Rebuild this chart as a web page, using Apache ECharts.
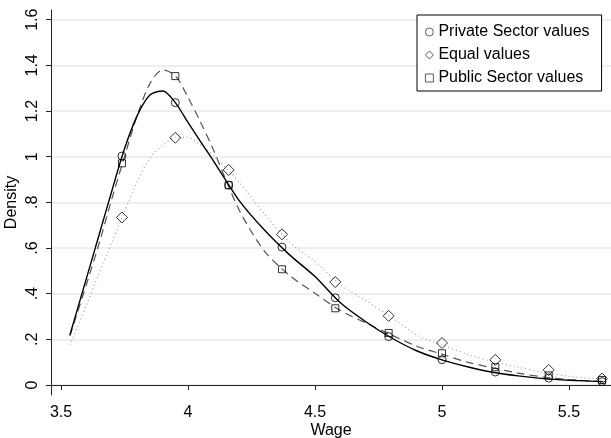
<!DOCTYPE html>
<html>
<head>
<meta charset="utf-8">
<script src="https://cdn.jsdelivr.net/npm/echarts/dist/echarts.min.js"></script>
<style>
  html, body { margin: 0; padding: 0; background: #fff; }
  #chart { width: 611px; height: 438px; }
</style>
</head>
<body>
<div id="chart"></div>
<script>
// wage points where the markers sit
var markerWage = [3.74, 3.95, 4.16, 4.37, 4.58, 4.79, 5.00, 5.21, 5.42, 5.63]
var privateValues = [1.003, 1.237, 0.876, 0.604, 0.382, 0.212, 0.111, 0.057, 0.030, 0.015]
var equalValues = [0.734, 1.083, 0.942, 0.660, 0.451, 0.303, 0.184, 0.110, 0.066, 0.028]
var publicValues = [0.971, 1.353, 0.875, 0.507, 0.336, 0.228, 0.139, 0.078, 0.042, 0.022]

// density curves
var curveWage = [3.535, 3.6, 3.65, 3.7, 3.75, 3.8, 3.85, 3.9, 3.95, 4.0, 4.05, 4.1, 4.2, 4.3, 4.4, 4.5, 4.6, 4.7, 4.8, 4.9, 5.0, 5.1, 5.2, 5.3, 5.4, 5.5, 5.635]
var privateCurve = [0.219, 0.467, 0.658, 0.85, 1.035, 1.18, 1.27, 1.288, 1.237, 1.15, 1.065, 0.982, 0.81, 0.68, 0.57, 0.475, 0.36, 0.277, 0.207, 0.15, 0.11, 0.08, 0.056, 0.04, 0.028, 0.021, 0.015]
var publicCurve = [0.215, 0.44, 0.62, 0.815, 1.0, 1.18, 1.32, 1.38, 1.355, 1.26, 1.15, 1.03, 0.77, 0.588, 0.48, 0.402, 0.326, 0.272, 0.22, 0.17, 0.135, 0.1, 0.075, 0.052, 0.035, 0.024, 0.015]
var equalCurve = [0.175, 0.35, 0.49, 0.625, 0.76, 0.89, 0.995, 1.05, 1.083, 1.085, 1.05, 1.005, 0.89, 0.75, 0.625, 0.54, 0.44, 0.37, 0.297, 0.22, 0.175, 0.135, 0.102, 0.078, 0.055, 0.038, 0.025]

var xTicks = [3.5, 4, 4.5, 5, 5.5]
var yTicks = [0, 0.2, 0.4, 0.6, 0.8, 1, 1.2, 1.4, 1.6]

function pairs(xs, ys) {
  return xs.map(function (x, i) { return [x, ys[i]] })
}

var font = 'Liberation Sans, Arial, sans-serif'
var myChart = echarts.init(document.getElementById('chart'))

var hollow = { color: 'rgba(0,0,0,0)', borderColor: '#000', borderWidth: 1 }

var option = {
  animation: false,
  backgroundColor: '#fff',
  textStyle: { fontFamily: font },
  grid: { left: 51, right: 0, top: 10, bottom: 43, outerBoundsMode: 'none', containLabel: false },
  legend: {
    orient: 'vertical',
    left: 417,
    top: 15,
    padding: [9, 12, 5, 8],
    itemGap: 7,
    itemWidth: 8,
    itemHeight: 8,
    borderColor: '#000',
    borderWidth: 1,
    backgroundColor: '#fff',
    itemStyle: { borderWidth: 0.8 },
    textStyle: { fontFamily: font, fontSize: 16, lineHeight: 16, color: '#000' },
    data: [
      { name: 'Private Sector values', icon: 'circle' },
      { name: 'Equal values', icon: 'diamond' },
      { name: 'Public Sector values', icon: 'rect' }
    ]
  },
  xAxis: {
    type: 'value',
    min: 3.4606,
    max: 5.6654,
    name: 'Wage',
    nameLocation: 'middle',
    nameGap: 28,
    nameMoveOverlap: false,
    nameTextStyle: { fontFamily: font, fontSize: 16, color: '#000' },
    axisLine: { lineStyle: { color: '#222', width: 1 } },
    axisTick: { length: 5, customValues: xTicks, lineStyle: { color: '#222' } },
    axisLabel: { customValues: xTicks, margin: 10, fontSize: 16, color: '#000', fontFamily: font },
    splitLine: { show: false }
  },
  yAxis: {
    type: 'value',
    min: -0.0438,
    max: 1.6426,
    name: 'Density',
    nameLocation: 'middle',
    nameGap: 31,
    nameMoveOverlap: false,
    nameTextStyle: { fontFamily: font, fontSize: 16, color: '#000' },
    axisLine: { show: true, lineStyle: { color: '#222', width: 1 } },
    axisTick: { show: true, length: 5, customValues: yTicks, lineStyle: { color: '#222' } },
    axisLabel: {
      customValues: yTicks,
      rotate: 90,
      margin: 10,
      fontSize: 16,
      color: '#000',
      fontFamily: font,
      formatter: function (v) {
        return String(Math.round(v * 10) / 10).replace(/^0\./, '.')
      }
    },
    splitLine: { show: true, lineStyle: { color: '#e8e8e8', width: 1.5 } }
  },
  series: [
    {
      name: 'private curve',
      type: 'line',
      data: pairs(curveWage, privateCurve),
      smooth: 0.3,
      showSymbol: false,
      lineStyle: { color: '#000', width: 1.4 },
      z: 3
    },
    {
      name: 'public curve',
      type: 'line',
      data: pairs(curveWage, publicCurve),
      smooth: 0.3,
      showSymbol: false,
      lineStyle: { color: '#555', width: 1.2, type: [8, 5] },
      z: 2
    },
    {
      name: 'equal curve',
      type: 'line',
      data: pairs(curveWage, equalCurve),
      smooth: 0.3,
      showSymbol: false,
      lineStyle: { color: '#999', width: 1.1, type: [1, 3] },
      z: 2
    },
    {
      name: 'Private Sector values',
      type: 'scatter',
      symbol: 'circle',
      symbolSize: 8,
      itemStyle: hollow,
      data: pairs(markerWage, privateValues),
      z: 5
    },
    {
      name: 'Equal values',
      type: 'scatter',
      symbol: 'diamond',
      symbolSize: 11,
      itemStyle: hollow,
      data: pairs(markerWage, equalValues),
      z: 5
    },
    {
      name: 'Public Sector values',
      type: 'scatter',
      symbol: 'rect',
      symbolSize: 7,
      itemStyle: hollow,
      data: pairs(markerWage, publicValues),
      z: 5
    }
  ]
}

myChart.setOption(option)
</script>
</body>
</html>
